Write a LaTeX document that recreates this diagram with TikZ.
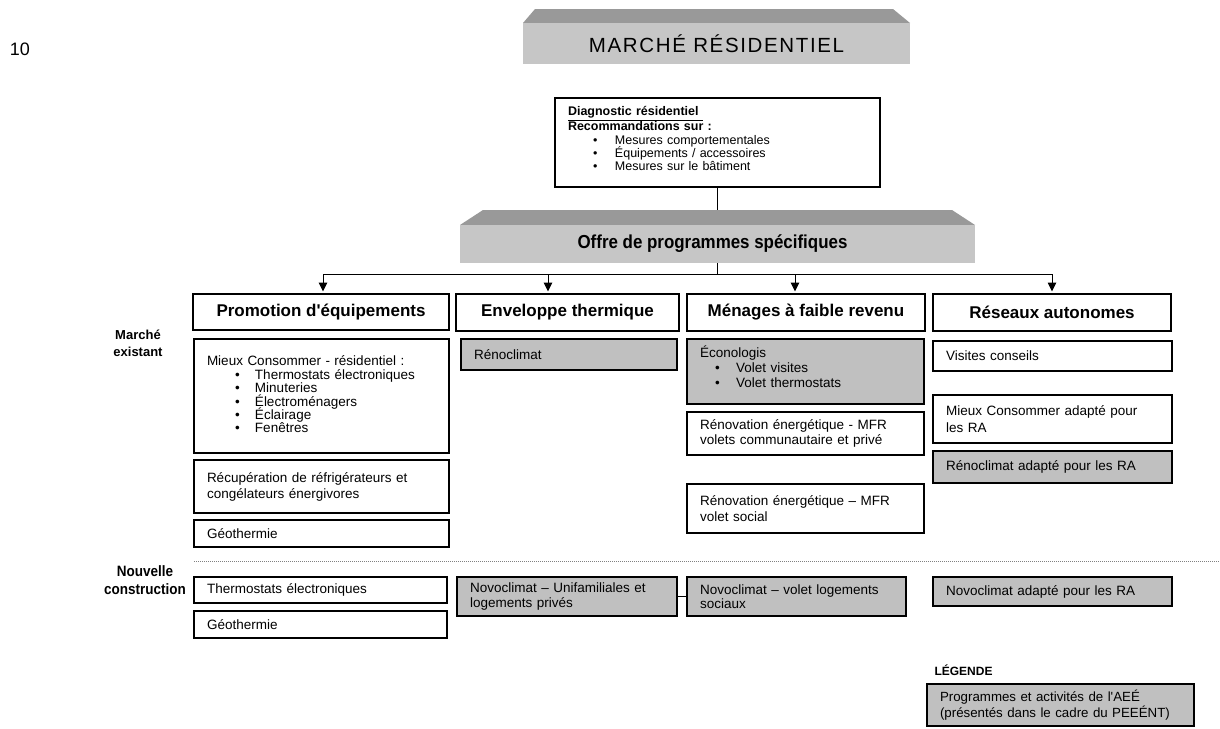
\documentclass[tikz,border=0pt]{standalone}
\usepackage{fontspec}
\setmainfont{Liberation Sans}
\newfontfamily\narrowfont{Liberation Sans}[FakeStretch=0.9]
\newfontfamily\spacedfont{Liberation Sans}[LetterSpace=8]
\usetikzlibrary{arrows.meta}
\newcommand\fs[2]{\fontsize{#1}{#2}\selectfont\lineskiplimit=-30pt\lineskip=0pt\relax}
\definecolor{boxgray}{HTML}{C0C0C0}
\definecolor{bannerface}{HTML}{C6C6C6}
\definecolor{bannertop}{HTML}{999999}
\tikzset{
  prog/.style={draw=black, line width=1.2pt, inner sep=0pt, align=left, font=\fs{13.5}{15}},
  aee/.style={prog, fill=boxgray},
  hdr/.style={draw=black, line width=2.6pt, inner sep=0pt, font=\fontsize{17}{20}\selectfont\bfseries},
  conn/.style={line width=1pt},
  arr/.style={conn, -{Triangle[length=9pt,width=8.5pt]}, shorten >=1.2pt},
  sepline/.style={gray, line width=0.7pt, dash pattern=on 0.8pt off 1.2pt},
}
\newcommand\mybox[7]{%
  \pgfmathsetmacro\bw{#5-#3}\pgfmathsetmacro\bh{#6-#4}\pgfmathsetmacro\tw{#5-#3-26}%
  \node[#1, minimum width=\bw pt, minimum height=\bh pt, text width=\tw pt] (#2) at ({(#3+#5)/2},{(#4+#6)/2}) {#7};}
\newcommand\bul[3]{\hspace*{#1pt}\makebox[#2pt][l]{\textbullet}#3}
\begin{document}
\begin{tikzpicture}[x=1pt,y=-1pt]
\fill[white] (0,0) rectangle (1220,728);
\useasboundingbox (0,0) rectangle (1220,728);

% page number
\node[font=\fontsize{18}{20}\selectfont] (pg) at (20,49) {10};

% top banner
\fill[bannertop] (523,23) -- (535,9) -- (893,9) -- (910,23) -- cycle;
\node[fill=bannerface, minimum width=387pt, minimum height=41pt, inner sep=0pt,
  font=\spacedfont\fontsize{20.5}{22}\selectfont] (mr) at (716.5,43.5) {MARCHÉ RÉSIDENTIEL};

% diagnostic
\mybox{prog,font=\fs{12.5}{13}}{diag}{555}{98}{880}{187}{%
\textbf{\underline{Diagnostic résidentiel\ }}\\[1.5pt]
\textbf{Recommandations sur :}\\[1pt]
\bul{25}{22}{Mesures comportementales}\\
\bul{25}{22}{Équipements / accessoires}\\
\bul{25}{22}{Mesures sur le bâtiment}\rule[-8pt]{0pt}{0pt}}

% offre banner
\fill[bannertop] (460,225) -- (483,210) -- (952,210) -- (975,225) -- cycle;
\node[fill=bannerface, minimum width=515pt, minimum height=38pt, inner sep=0pt,
  font=\narrowfont\bfseries\fontsize{18.8}{20}\selectfont] (offre) at (717.5,244) {\hspace*{-10pt}Offre de programmes spécifiques};

\coordinate (offtop) at (717.5,210);
\draw[conn] (diag.south) -- (offtop);
\coordinate (bus) at (717.5,274);
\draw[conn] (offre.south) -- (bus);

% headers
\node[hdr, minimum width=256pt, minimum height=36pt] (h1) at (321,312) {Promotion d\textquotesingle équipements};
\node[hdr, minimum width=223pt, minimum height=37pt] (h2) at (567.5,312.5) {Enveloppe thermique};
\node[hdr, minimum width=238pt, minimum height=37pt] (h3) at (806,312.5) {Ménages à faible revenu};
\node[hdr, minimum width=238pt, minimum height=37pt] (h4) at (1052,312.5) {Réseaux autonomes};

\coordinate (b1) at (323,274);
\coordinate (b2) at (548,274);
\coordinate (b3) at (795,274);
\coordinate (b4) at (1052,274);
\draw[conn] (b1) -- (b4);
\draw[arr] (b1) -- (b1 |- h1.north);
\draw[arr] (b2) -- (b2 |- h2.north);
\draw[arr] (b3) -- (b3 |- h3.north);
\draw[arr] (b4) -- (b4 |- h4.north);

% side labels
\node[font=\bfseries\fontsize{13}{17}\selectfont, align=center] (me) at (138,343) {Marché\\existant};
\node[font=\narrowfont\bfseries\fontsize{15}{18}\selectfont, align=center] (nc) at (145,580) {Nouvelle\\construction};

% column 1
\mybox{prog,font=\fs{13.5}{13.3}}{mc}{194}{339}{449}{453}{%
Mieux Consommer - résidentiel :\\[1pt]
\bul{28}{20}{Thermostats électroniques}\\
\bul{28}{20}{Minuteries}\\
\bul{28}{20}{Électroménagers}\\
\bul{28}{20}{Éclairage}\\
\bul{28}{20}{Fenêtres}\rule[-4pt]{0pt}{0pt}}
\mybox{prog,font=\fs{13.5}{16}}{rec}{194}{460}{449}{513}{Récupération de réfrigérateurs et\\congélateurs énergivores}
\mybox{prog}{geo1}{194}{520}{449}{547}{Géothermie}

% column 2
\mybox{aee}{ren}{461}{339}{677}{370}{Rénoclimat}

% column 3
\mybox{aee}{eco}{687}{339}{924}{404}{%
Éconologis\\
\bul{15}{21}{Volet visites}\\
\bul{15}{21}{Volet thermostats}\rule[-10pt]{0pt}{0pt}}
\mybox{prog}{mfr1}{687}{412}{924}{455}{Rénovation énergétique - MFR\\volets communautaire et privé}
\mybox{prog,font=\fs{13.5}{16}}{mfr2}{687}{484}{924}{533}{Rénovation énergétique – MFR\\volet social}

% column 4
\mybox{prog}{vis}{933}{341}{1172}{371}{Visites conseils}
\mybox{prog,font=\fs{13.5}{16.5}}{mcra}{933}{395}{1172}{443}{Mieux Consommer adapté pour\\les RA}
\mybox{aee}{renra}{933}{451}{1172}{483}{Rénoclimat adapté pour les RA}

% separator
\coordinate (sepL) at (194,561);
\coordinate (sepR) at (1220,561);
\draw[sepline] (sepL) -- (sepR);

% new construction
\mybox{prog}{th2}{194}{577}{447}{603}{Thermostats électroniques}
\mybox{prog}{geo2}{194}{611}{447}{638}{Géothermie}
\mybox{aee,font=\fs{13.5}{14.5}}{nov1}{457}{577}{677}{616}{Novoclimat – Unifamiliales et\\logements privés}
\mybox{aee,font=\fs{13.5}{14.5}}{nov2}{687}{577}{906}{616}{Novoclimat – volet logements\\sociaux}
\mybox{aee}{nov3}{933}{577}{1172}{606}{Novoclimat adapté pour les RA}
\draw[conn] (nov1.east) -- (nov2.west);

% legend
\node[font=\bfseries\fontsize{12}{14}\selectfont, anchor=west] (lg) at (931,670) {LÉGENDE};
\mybox{aee,font=\fs{13.3}{16}}{leg}{927}{684}{1194}{726}{Programmes et activités de l\textquotesingle AEÉ\\(présentés dans le cadre du PEEÉNT)}
\end{tikzpicture}
\end{document}
